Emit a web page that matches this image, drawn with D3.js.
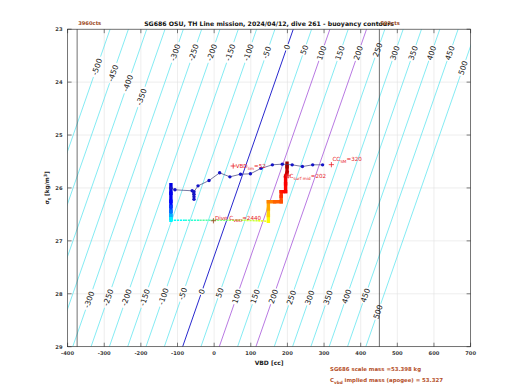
<!DOCTYPE html>
<html><head><meta charset="utf-8">
<script src="https://cdn.jsdelivr.net/npm/d3@7"></script>
<style>body{margin:0;background:#fff}</style>
</head><body>
<svg id="c" width="520" height="390" xmlns="http://www.w3.org/2000/svg"></svg>
<script>
// ---------- data ----------
const xTicks = [-400,-300,-200,-100,0,100,200,300,400,500,600,700];
const yTicks = [23,24,25,26,27,28,29];
const contourLevels = [-500,-450,-400,-350,-300,-250,-200,-150,-100,-50,0,50,100,150,200,250,300,350,400,450,500];
// VBD [cc] of the 0 contour at sigma 23 and sigma 29
const zeroContourTop = 216;
const zeroContourBottom = -86;
// sigma where each contour label sits (upper and lower rows), null = no label
const upperLabelSigma = [23.71,23.83,24.02,24.28,23.44,23.44,23.44,23.44,23.44,23.44,23.34,23.39,23.45,23.45,23.45,23.39,23.45,23.45,23.45,23.45,23.73];
const lowerLabelSigma = [null,null,null,null,28.11,28.07,28.07,28.07,28.05,28.0,27.96,27.98,28.05,28.05,28.05,28.07,28.07,28.07,28.05,28.03,28.34];
// VBD limits
const vbdLimits = [-374, 451];
const vbdLimitLabels = ["3960cts", "593cts"];

// dive trace (VBD vs sigma_t), colour = fraction of dive
const diveVbd   = [-118,-118,-118,-118,-118,-118,-118,-118,-80,-40,0,40,80,120,148,148,148,148,165,183,183,183,189,195,195,195,199,199,199];
const diveSigma = [25.94,26.10,26.25,26.35,26.44,26.52,26.58,26.61,26.61,26.61,26.61,26.61,26.61,26.62,26.63,26.52,26.40,26.26,26.26,26.26,26.16,26.07,26.07,26.07,25.92,25.78,25.70,25.60,25.53];
const diveColor = [0.10,0.11,0.13,0.18,0.24,0.30,0.36,0.38,0.42,0.46,0.50,0.54,0.57,0.60,0.63,0.67,0.71,0.75,0.78,0.80,0.83,0.85,0.86,0.87,0.88,0.90,0.94,0.97,1.0];

// climb points
const climbVbd   = [-118,-107,-60,-55,-55,-55,-55,-44,-14,15,43,72,99,128,159,186,213,241,269,296];
const climbSigma = [26.0,26.035,26.054,26.214,26.167,26.12,26.07,25.96,25.86,25.714,25.79,25.74,25.733,25.63,25.563,25.55,25.563,25.595,25.563,25.563];

// annotations
const markVbd   = [52, 320, 202, -2];
const markSigma = [25.585, 25.56, 25.77, 26.62];
const markText  = [
  [["VBD"],["lim",1],["=52"]],
  [["CC"],["SM",1],["=320"]],
  [["CC"],["surf mid",1],["=202"]],
  [["Dive C"],["VBD",1],["=2440"]]
];
const titleText = "SG686 OSU, TH Line mission, 2024/04/12, dive 261 - buoyancy contours";
const massLines = ["SG686 scale mass =53.398 kg", "implied mass (apogee) = 53.327"];

// ---------- layout ----------
const svg = d3.select("#c");
const L = 67.6, R = 470.6, T = 29.2, B = 346.7;
const x = d3.scaleLinear().domain([-400,700]).range([L,R]);
const y = d3.scaleLinear().domain([23,29]).range([T,B]);
const FONT = "DejaVu Sans, Arial, sans-serif";

function jet(v){
  const c = t => Math.round(255*Math.max(0, Math.min(1, t)));
  return `rgb(${c(1.5-Math.abs(4*v-3))},${c(1.5-Math.abs(4*v-2))},${c(1.5-Math.abs(4*v-1))})`;
}
function contourVbd(level, s){
  return level + zeroContourTop + (s-23)/(29-23)*(zeroContourBottom-zeroContourTop);
}
const angle = Math.atan2(y(22)-y(23), x(contourVbd(0,22))-x(contourVbd(0,23)))*180/Math.PI;

const defs = svg.append("defs");
defs.append("clipPath").attr("id","clip").append("rect")
  .attr("x",L).attr("y",T).attr("width",R-L).attr("height",B-T);

// grid
const grid = svg.append("g").attr("stroke","#e3e3e3").attr("stroke-width",0.6);
xTicks.forEach(t=>grid.append("line").attr("x1",x(t)).attr("x2",x(t)).attr("y1",T).attr("y2",B));
yTicks.forEach(t=>grid.append("line").attr("y1",y(t)).attr("y2",y(t)).attr("x1",L).attr("x2",R));

// label positions
const labels = [];
contourLevels.forEach((lv,i)=>{
  [upperLabelSigma[i], lowerLabelSigma[i]].forEach(s=>{
    if (s==null) return;
    labels.push({lv, px:x(contourVbd(lv,s)), py:y(s)});
  });
});

// mask to break contour lines under labels
const mask = defs.append("mask").attr("id","lblmask").attr("maskUnits","userSpaceOnUse")
  .attr("x",0).attr("y",0).attr("width",520).attr("height",390);
mask.append("rect").attr("x",0).attr("y",0).attr("width",520).attr("height",390).attr("fill","#fff");
labels.forEach(d=>{
  const w = String(d.lv).length*4.9 + 2;
  mask.append("rect").attr("x",-w/2).attr("y",-3.2).attr("width",w).attr("height",6.4)
    .attr("fill","#000").attr("transform",`translate(${d.px},${d.py}) rotate(${angle})`);
});

// contours
const cg = svg.append("g").attr("clip-path","url(#clip)").append("g").attr("mask","url(#lblmask)");
contourLevels.forEach(lv=>{
  const col = lv===0 ? "#1010c8" : (lv===100||lv===200) ? "#9a3fd6" : "#4fe3ee";
  cg.append("line")
    .attr("x1",x(contourVbd(lv,23))).attr("y1",y(23))
    .attr("x2",x(contourVbd(lv,29))).attr("y2",y(29))
    .attr("stroke",col).attr("stroke-width", lv===0?0.9:0.7);
});

// VBD limit lines
vbdLimits.forEach((v,i)=>{
  svg.append("line").attr("x1",x(v)).attr("x2",x(v)).attr("y1",T).attr("y2",B)
    .attr("stroke","#333").attr("stroke-width",0.7);
});
svg.append("text").attr("x",x(vbdLimits[0])+1).attr("y",T-4.5).text(vbdLimitLabels[0])
  .attr("font-family",FONT).attr("font-size",5.2).attr("font-weight","bold").attr("fill","#9c4a1e");

// contour labels
labels.forEach(d=>{
  svg.append("text").attr("transform",`translate(${d.px},${d.py}) rotate(${angle})`)
    .attr("text-anchor","middle").attr("dy","0.35em")
    .attr("font-family",FONT).attr("font-size",7.6).attr("fill","#111").text(d.lv);
});

// dive trace
const pg = svg.append("g").attr("clip-path","url(#clip)");
for (let i=0;i<diveVbd.length-1;i++){
  const x1=x(diveVbd[i]), y1=y(diveSigma[i]), x2=x(diveVbd[i+1]), y2=y(diveSigma[i+1]);
  const long = Math.abs(x2-x1) > 10;
  pg.append("line").attr("x1",x1).attr("y1",y1).attr("x2",x2).attr("y2",y2)
    .attr("stroke",jet(diveColor[i])).attr("stroke-width", long?1.6:3.4)
    .attr("stroke-dasharray", long?"2.2,0.8":null)
    .attr("stroke-linecap", long?"butt":"square");
}

// climb line + markers
const climb = climbVbd.map((v,i)=>[x(v), y(climbSigma[i])]);
pg.append("path").attr("d", d3.line()(climb)).attr("fill","none").attr("stroke","#3c3c78").attr("stroke-width",0.7);
pg.selectAll("circle.cl").data(climb).enter().append("circle")
  .attr("cx",d=>d[0]).attr("cy",d=>d[1]).attr("r",1.7).attr("fill","#1414c8");

// annotations
function rich(g, px, py, parts, size, color){
  const t = g.append("text").attr("x",px).attr("y",py).attr("font-family",FONT)
    .attr("font-size",size).attr("fill",color);
  let sub=false;
  parts.forEach(p=>{
    const isSub = !!p[1];
    const ts = t.append("tspan").text(p[0]);
    if (isSub && !sub) ts.attr("dy", size*0.35).attr("font-size", size*0.75);
    else if (!isSub && sub) ts.attr("dy", -size*0.35);
    else if (isSub) ts.attr("font-size", size*0.75);
    sub = isSub;
  });
  return t;
}
const ag = svg.append("g");
const markDy = [2.0, -3.5, 2.2, -1.0];
const markDx = [2.5, 1.0, -2.5, 1.5];
markVbd.forEach((v,i)=>{
  const px=x(v), py=y(markSigma[i]);
  ag.append("path").attr("d",`M${px-2.6},${py}H${px+2.6}M${px},${py-2.6}V${py+2.6}`)
    .attr("stroke", i===3?"#a0401a":"#e8202a").attr("stroke-width",0.8);
  rich(ag, px+markDx[i], py+markDy[i], markText[i], 5.6, "#e8202a");
});

// axes box + ticks
const ax = svg.append("g").attr("stroke","#262626").attr("stroke-width",0.6);
ax.append("rect").attr("x",L).attr("y",T).attr("width",R-L).attr("height",B-T).attr("fill","none");
xTicks.forEach(t=>{
  ax.append("line").attr("x1",x(t)).attr("x2",x(t)).attr("y1",B).attr("y2",B-4);
  ax.append("line").attr("x1",x(t)).attr("x2",x(t)).attr("y1",T).attr("y2",T+4);
});
yTicks.forEach(t=>{
  ax.append("line").attr("y1",y(t)).attr("y2",y(t)).attr("x1",L).attr("x2",L+4);
  ax.append("line").attr("y1",y(t)).attr("y2",y(t)).attr("x1",R).attr("x2",R-4);
});
const tl = svg.append("g").attr("font-family",FONT).attr("font-size",5.2).attr("font-weight","bold").attr("fill","#3a3a3a");
xTicks.forEach(t=>tl.append("text").attr("x",x(t)).attr("y",B+8.5).attr("text-anchor","middle").text(t));
yTicks.forEach(t=>tl.append("text").attr("x",L-5).attr("y",y(t)+1.8).attr("text-anchor","end").text(t));

// axis titles
svg.append("text").attr("x",(L+R)/2).attr("y",B+18).attr("text-anchor","middle")
  .attr("font-family",FONT).attr("font-size",6).attr("font-weight","bold").attr("fill","#222").text("VBD [cc]");
const yl = svg.append("text").attr("transform",`translate(49,${(T+B)/2}) rotate(-90)`).attr("text-anchor","middle")
  .attr("font-family",FONT).attr("font-size",5.8).attr("font-weight","bold").attr("fill","#222");
yl.append("tspan").text("σ");
yl.append("tspan").text("t").attr("dy",2).attr("font-size",4.4);
yl.append("tspan").text(" [kg/m").attr("dy",-2);
yl.append("tspan").text("3").attr("dy",-2).attr("font-size",4.4);
yl.append("tspan").text("]").attr("dy",2);

// title
svg.append("text").attr("x",(L+R)/2).attr("y",T-3.2).attr("text-anchor","middle")
  .attr("font-family",FONT).attr("font-size",6.2).attr("font-weight","bold").attr("fill","#111").text(titleText);
// right limit label drawn on top of the title, as in the original
svg.append("text").attr("x",x(vbdLimits[1])+1).attr("y",T-4.5).text(vbdLimitLabels[1])
  .attr("font-family",FONT).attr("font-size",5.2).attr("font-weight","bold").attr("fill","#9c4a1e");

// mass text
const mg = svg.append("g").attr("font-family",FONT).attr("font-size",5.4).attr("font-weight","bold").attr("fill","#b5502a");
mg.append("text").attr("x",330).attr("y",371).text(massLines[0]);
const m2 = mg.append("text").attr("x",330).attr("y",381.5);
m2.append("tspan").text("C");
m2.append("tspan").text("vbd").attr("dy",2).attr("font-size",4.2);
m2.append("tspan").text(" " + massLines[1]).attr("dy",-2);
</script>
</body></html>
